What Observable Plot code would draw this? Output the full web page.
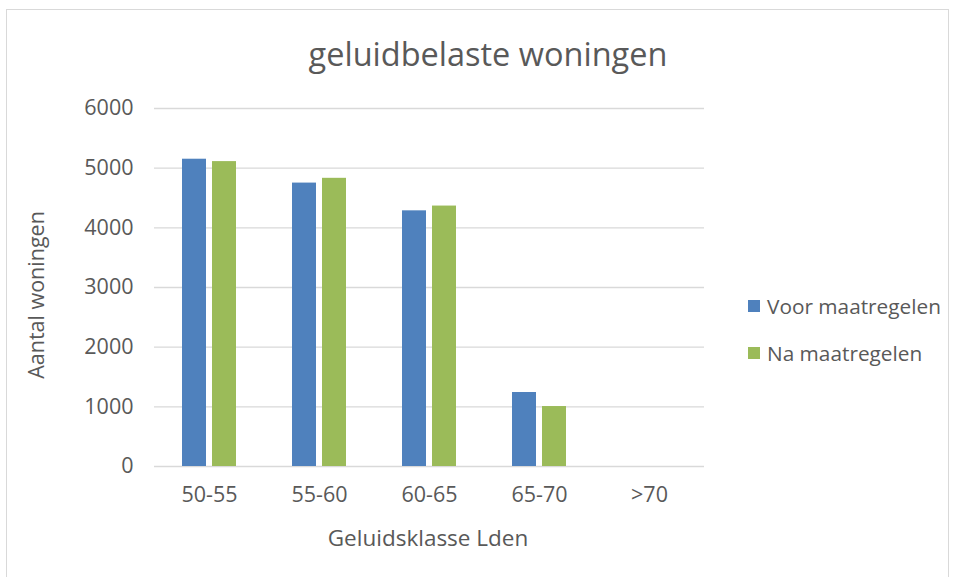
<!DOCTYPE html>
<html>
<head>
<meta charset="utf-8">
<script src="https://cdn.jsdelivr.net/npm/d3@7"></script>
<script src="https://cdn.jsdelivr.net/npm/@observablehq/plot@0.6"></script>
<style>
  html, body { margin: 0; padding: 0; background: #fff; }
  #wrap { position: relative; width: 957px; height: 577px; overflow: hidden; font-family: "Open Sans", sans-serif; color: #595959; }
  #frame { position: absolute; left: 6px; top: 9px; width: 943px; height: 590px; border: 1px solid #d9d9d9; box-sizing: border-box; }
  #chart { position: absolute; left: 0; top: 0; }
  .txt { position: absolute; white-space: nowrap; }
  #title { left: 0; width: 976px; text-align: center; top: 31px; font-size: 32.5px; }
  #ylab { left: 35px; top: 295px; font-size: 21.5px; transform: translate(-50%, -50%) rotate(-90deg); }
  #xlab { left: 428px; top: 537px; font-size: 22.5px; transform: translate(-50%, -50%); }
  .leg { position: absolute; left: 748px; font-size: 20.8px; display: flex; align-items: center; }
  .sw { width: 12px; height: 12px; margin-right: 7px; }
</style>
</head>
<body>
<div id="wrap">
  <div id="frame"></div>
  <div id="chart"></div>
  <div class="txt" id="title">geluidbelaste woningen</div>
  <div class="txt" id="ylab">Aantal woningen</div>
  <div class="txt" id="xlab">Geluidsklasse Lden</div>
  <div id="legend"></div>
</div>
<script>
const categories = ["50-55", "55-60", "60-65", "65-70", ">70"];
const seriesNames = ["Voor maatregelen", "Na maatregelen"];
const voorValues = [5150, 4750, 4285, 1240, 0];
const naValues = [5110, 4830, 4365, 1005, 0];
const seriesColors = ["#4f81bd", "#9bbb59"];
const yTicks = [0, 1000, 2000, 3000, 4000, 5000, 6000];

const data = [];
categories.forEach((c, i) => {
  data.push({cat: c, series: seriesNames[0], value: voorValues[i]});
  data.push({cat: c, series: seriesNames[1], value: naValues[i]});
});

const chart = Plot.plot({
  width: 957,
  height: 577,
  marginTop: 108,
  marginBottom: 111,
  marginLeft: 152,
  marginRight: 252,
  style: {fontFamily: "Open Sans, sans-serif", color: "#595959", background: "transparent"},
  fx: {domain: categories, padding: 0, label: null},
  x: {domain: seriesNames, axis: null, paddingInner: 0.194, paddingOuter: 0.881},
  y: {domain: [0, 6000], label: null},
  color: {domain: seriesNames, range: seriesColors},
  marks: [
    Plot.ruleY(yTicks, {stroke: "#d9d9d9", strokeWidth: 1.4}),
    Plot.barY(data, {fx: "cat", x: "series", y: "value", fill: "series"}),
    Plot.axisY({ticks: yTicks, tickSize: 0, tickPadding: 21, label: null, fontSize: 21.5, fill: "#595959", tickFormat: d => String(d)}),
    Plot.axisFx({anchor: "bottom", tickSize: 0, tickPadding: 20, label: null, fontSize: 21.5, fill: "#595959"})
  ]
});
document.getElementById("chart").appendChild(chart);

const legend = document.getElementById("legend");
seriesNames.forEach((s, i) => {
  const item = document.createElement("div");
  item.className = "leg";
  item.style.top = (292 + i * 47) + "px";
  const sw = document.createElement("div");
  sw.className = "sw";
  sw.style.background = seriesColors[i];
  const t = document.createElement("span");
  t.textContent = s;
  item.appendChild(sw);
  item.appendChild(t);
  legend.appendChild(item);
});
</script>
</body>
</html>
